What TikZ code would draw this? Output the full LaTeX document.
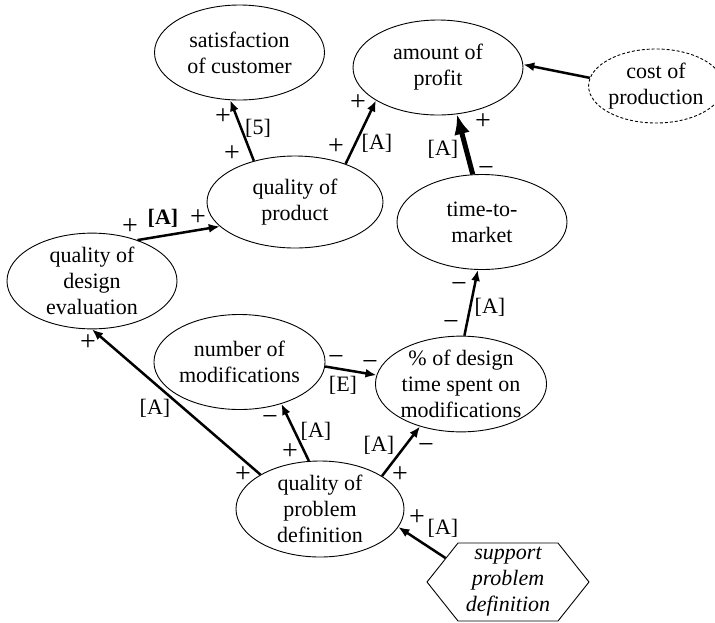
\documentclass[tikz,border=0pt]{standalone}
\usepackage{fontspec}
\setmainfont{Liberation Serif}
\usetikzlibrary{arrows.meta,shapes.geometric,shapes.symbols}
\begin{document}
\begin{tikzpicture}[x=1pt,y=-1pt,
  every node/.style={font=\fontsize{22}{26}\selectfont},
  ell/.style={ellipse, draw, line width=0.9pt, minimum width=170pt, minimum height=95pt, inner sep=0pt, align=center},
  conn/.style={line width=2.5pt, -{Latex[length=11pt,width=9pt]}},
  thickconn/.style={line width=5pt, -{Latex[length=20pt,width=16pt]}},
  sg/.style={inner sep=0pt},
  sgn/.style={inner sep=0pt, font=\fontsize{28}{30}\selectfont}
]
\useasboundingbox (0,0) rectangle (715,622);

% ellipses
\node[ell] (sat) at (239.5,52.5) {satisfaction\\of customer};
\node[ell] (profit) at (438,67.5) {amount of\\profit};
\node[ell, dashed, dash pattern=on 3pt off 2pt, minimum width=117pt, minimum height=74pt] (cost) at (656,86) {cost of\\production};
\node[ell, minimum width=176pt, minimum height=92pt] (product) at (295,202) {quality of\\product};
\node[ell] (time) at (482,222) {time-to-\\market};
\node[ell] (design) at (92,281) {quality of\\design\\evaluation};
\node[ell] (nummod) at (239.5,362) {number of\\modifications};
\node[ell, minimum height=93pt] (pct) at (461,384) {\% of design\\time spent on\\modifications};
\node[ell, minimum width=168pt, minimum height=96pt] (problem) at (320,509) {quality of\\problem\\definition};
\node[signal, signal to=west and east, signal pointer angle=103, draw, line width=0.9pt,
      minimum width=162pt, minimum height=78pt, inner sep=0pt, align=center,
      font=\fontsize{22}{26}\selectfont\itshape] (support) at (508,582) {support\\problem\\definition};

% connectors
\draw[conn] (product.135) -- (sat.259);
\draw[conn] (product.37) -- (profit.208);
\draw[thickconn] (time.101) -- (profit.292);
\draw[conn] (cost.173) -- (profit.2);
\draw[conn] (design.42) -- (product.198);
\draw[conn] (problem.150) -- (design.270);
\draw[conn] (problem.103) -- (nummod.315);
\draw[conn] (problem.28) -- (pct.226);
\draw[conn] (nummod.357) -- (pct.174);
\draw[conn] (pct.86) -- (time.265);
\draw[conn] (support.159) -- (problem.347);

% labels
\node[sgn] (a1) at (223,117) {+};
\node[sg] (a2) at (258,128) {[5]};
\node[sgn] (a3) at (232,154) {+};
\node[sgn] (b1) at (358,103) {+};
\node[sg] (b2) at (377,143) {[A]};
\node[sgn] (b3) at (336,147) {+};
\node[sgn] (c1) at (483,122) {+};
\node[sg] (c2) at (443,149) {[A]};
\node[sgn] (c3) at (486,171) {−};
\node[sgn] (d1) at (130,227) {+};
\node[sg] (d2) at (163,218) {\bfseries [A]};
\node[sgn] (d3) at (198,218) {+};
\node[sgn] (e1) at (88,343) {+};
\node[sg] (e2) at (155,408) {[A]};
\node[sgn] (e3) at (243,475) {+};
\node[sgn] (f1) at (270,420) {−};
\node[sg] (f2) at (316,431) {[A]};
\node[sgn] (f3) at (290,452) {+};
\node[sg] (g1) at (379,445) {[A]};
\node[sgn] (g2) at (426,448) {−};
\node[sgn] (g3) at (400,475) {+};
\node[sgn] (h1) at (336,360) {−};
\node[sgn] (h2) at (370,365) {−};
\node[sg] (h3) at (343,385) {[E]};
\node[sgn] (i1) at (459,287) {−};
\node[sg] (i2) at (490,307) {[A]};
\node[sgn] (i3) at (451,325) {−};
\node[sgn] (j1) at (417,518) {+};
\node[sg] (j2) at (443,528) {[A]};
\end{tikzpicture}
\end{document}
